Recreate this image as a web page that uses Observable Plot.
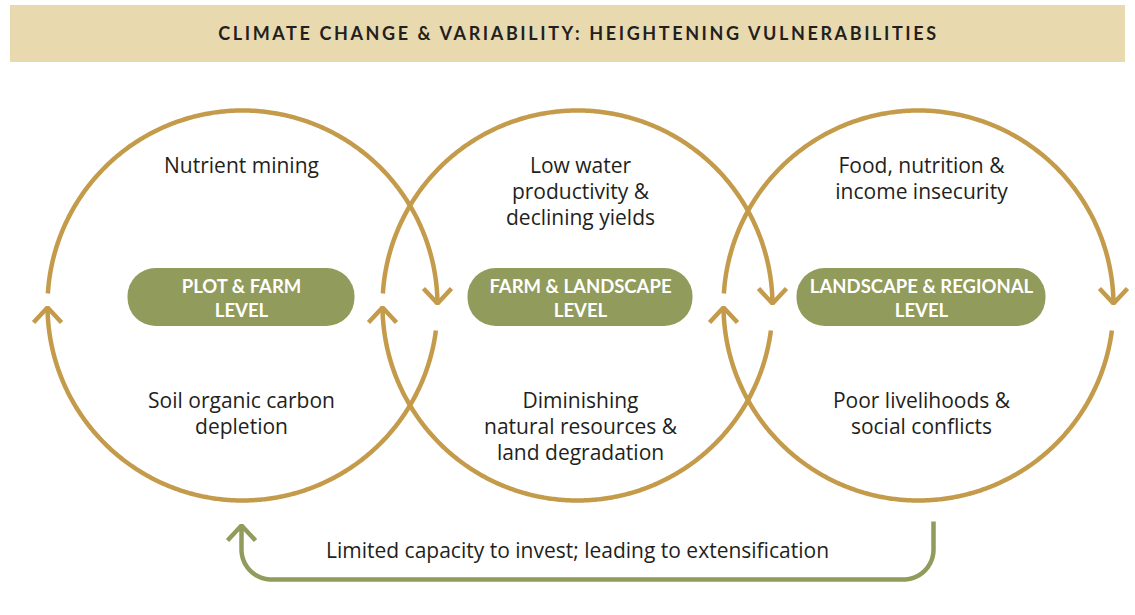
<!DOCTYPE html>
<html>
<head>
<meta charset="utf-8">
<script src="https://cdn.jsdelivr.net/npm/d3@7"></script>
<script src="https://cdn.jsdelivr.net/npm/@observablehq/plot@0.6"></script>
<style>
  html, body { margin: 0; padding: 0; background: #fff; }
  #chart svg { display: block; }
</style>
</head>
<body>
<div id="chart"></div>
<script>
// ---- content ----
const title = "CLIMATE CHANGE & VARIABILITY: HEIGHTENING VULNERABILITIES";
const levels = ["PLOT & FARM\nLEVEL", "FARM & LANDSCAPE\nLEVEL", "LANDSCAPE & REGIONAL\nLEVEL"];
const topLabels = ["Nutrient mining", "Low water\nproductivity &\ndeclining yields", "Food, nutrition &\nincome insecurity"];
const bottomLabels = ["Soil organic carbon\ndepletion", "Diminishing\nnatural resources &\nland degradation", "Poor livelihoods &\nsocial conflicts"];
const feedback = "Limited capacity to invest; leading to extensification";

// ---- layout (pixels) ----
const W = 1135, H = 615;
const circleX = [242, 577, 918];
const textX = [241, 580, 921];
const pillW = [227, 225, 249];
const CY = 305, R = 195;
const gold = "#c49b4b", green = "#919b5b", banner = "#e9d9ae", ink = "#231f20";
const boldFont = "Lato, 'Open Sans', sans-serif";
const bodyFont = "'Open Sans', Lato, sans-serif";

const rad = d => d * Math.PI / 180;
function arc(id, cx, cy, r, a0, a1) {
  return d3.range(a0, a1 + 0.001, 0.5).map(a => ({id, x: cx + r * Math.cos(rad(a)), y: cy + r * Math.sin(rad(a))}));
}
function chevron(id, tx, ty, dir) { // dir: -1 points up, +1 points down
  return [{id, x: tx - 14, y: ty - dir * 15}, {id, x: tx, y: ty}, {id, x: tx + 14, y: ty - dir * 15}];
}
const yAng = (y, side) => { const s = Math.asin((y - CY) / R) * 180 / Math.PI; return side === "right" ? s : 180 - s; };

const arcs = [], heads = [];
circleX.forEach((cx, i) => {
  const aRightLow = yAng(330, "right");
  const aLeftTip = yAng(307, "left");
  const aLeftHigh = yAng(293, "left");
  const aRightTip = 360 + yAng(303, "right");
  arcs.push(...arc("lo" + i, cx, CY, R, aRightLow, aLeftTip));
  arcs.push(...arc("hi" + i, cx, CY, R, aLeftHigh, aRightTip));
  heads.push(...chevron("hl" + i, cx - Math.sqrt(R*R - 4), 307, -1));
  heads.push(...chevron("hr" + i, cx + Math.sqrt(R*R - 4), 303, 1));
});

// feedback path
const fx0 = 933, fx1 = 241, fyTop = 521, fyBot = 579, fr = 30, fyTip = 525;
const feedPath = [{id: "f", x: fx0, y: fyTop}]
  .concat(arc("f", fx0 - fr, fyBot - fr, fr, 0, 90))
  .concat(arc("f", fx1 + fr, fyBot - fr, fr, 90, 180))
  .concat([{id: "f", x: fx1, y: fyTip}]);
const feedHead = chevron("fh", fx1, fyTip, -1);

const pills = levels.map((t, i) => ({t, x1: textX[i] - pillW[i] / 2, x2: textX[i] + pillW[i] / 2, x: textX[i]}));

const chart = Plot.plot({
  width: W, height: H, margin: 0,
  x: {domain: [0, W], range: [0, W], axis: null},
  y: {domain: [0, H], range: [0, H], axis: null},
  style: {fontFamily: bodyFont, background: "#fff"},
  marks: [
    Plot.rect([0], {x1: 10, x2: 1125, y1: 5, y2: 62, fill: banner}),
    Plot.text([title], {x: 578, y: 34, text: d => d, fontSize: 18, fontWeight: "bold", fill: ink, fontFamily: boldFont}),
    Plot.line(arcs, {x: "x", y: "y", z: "id", stroke: gold, strokeWidth: 4.5, strokeLinecap: "butt", curve: "linear"}),
    Plot.line(heads, {x: "x", y: "y", z: "id", stroke: gold, strokeWidth: 4.5, strokeLinecap: "butt", strokeLinejoin: "miter", curve: "linear"}),
    Plot.line(feedPath, {x: "x", y: "y", z: "id", stroke: green, strokeWidth: 4.5, strokeLinecap: "butt", curve: "linear"}),
    Plot.line(feedHead, {x: "x", y: "y", z: "id", stroke: green, strokeWidth: 4.5, strokeLinecap: "butt", strokeLinejoin: "miter", curve: "linear"}),
    Plot.rect(pills, {x1: "x1", x2: "x2", y1: 268, y2: 326, fill: green, rx: 28}),
    Plot.text(pills, {x: "x", y: 297, text: "t", fill: "#fff", fontSize: 18.5, fontWeight: "bold", lineHeight: 1.3, lineAnchor: "middle", fontFamily: boldFont}),
    Plot.text(topLabels, {x: (d, i) => textX[i], y: 154, text: d => d, fill: ink, fontSize: 21, lineHeight: 1.24, lineAnchor: "top"}),
    Plot.text(bottomLabels, {x: (d, i) => textX[i], y: 389, text: d => d, fill: ink, fontSize: 21, lineHeight: 1.24, lineAnchor: "top"}),
    Plot.text([feedback], {x: 577, y: 551, text: d => d, fill: ink, fontSize: 21, lineAnchor: "middle"})
  ]
});
d3.select(chart).selectAll("text").filter(function() { return this.textContent === title; })
  .attr("letter-spacing", "2.6px");
document.getElementById("chart").appendChild(chart);
</script>
</body>
</html>
